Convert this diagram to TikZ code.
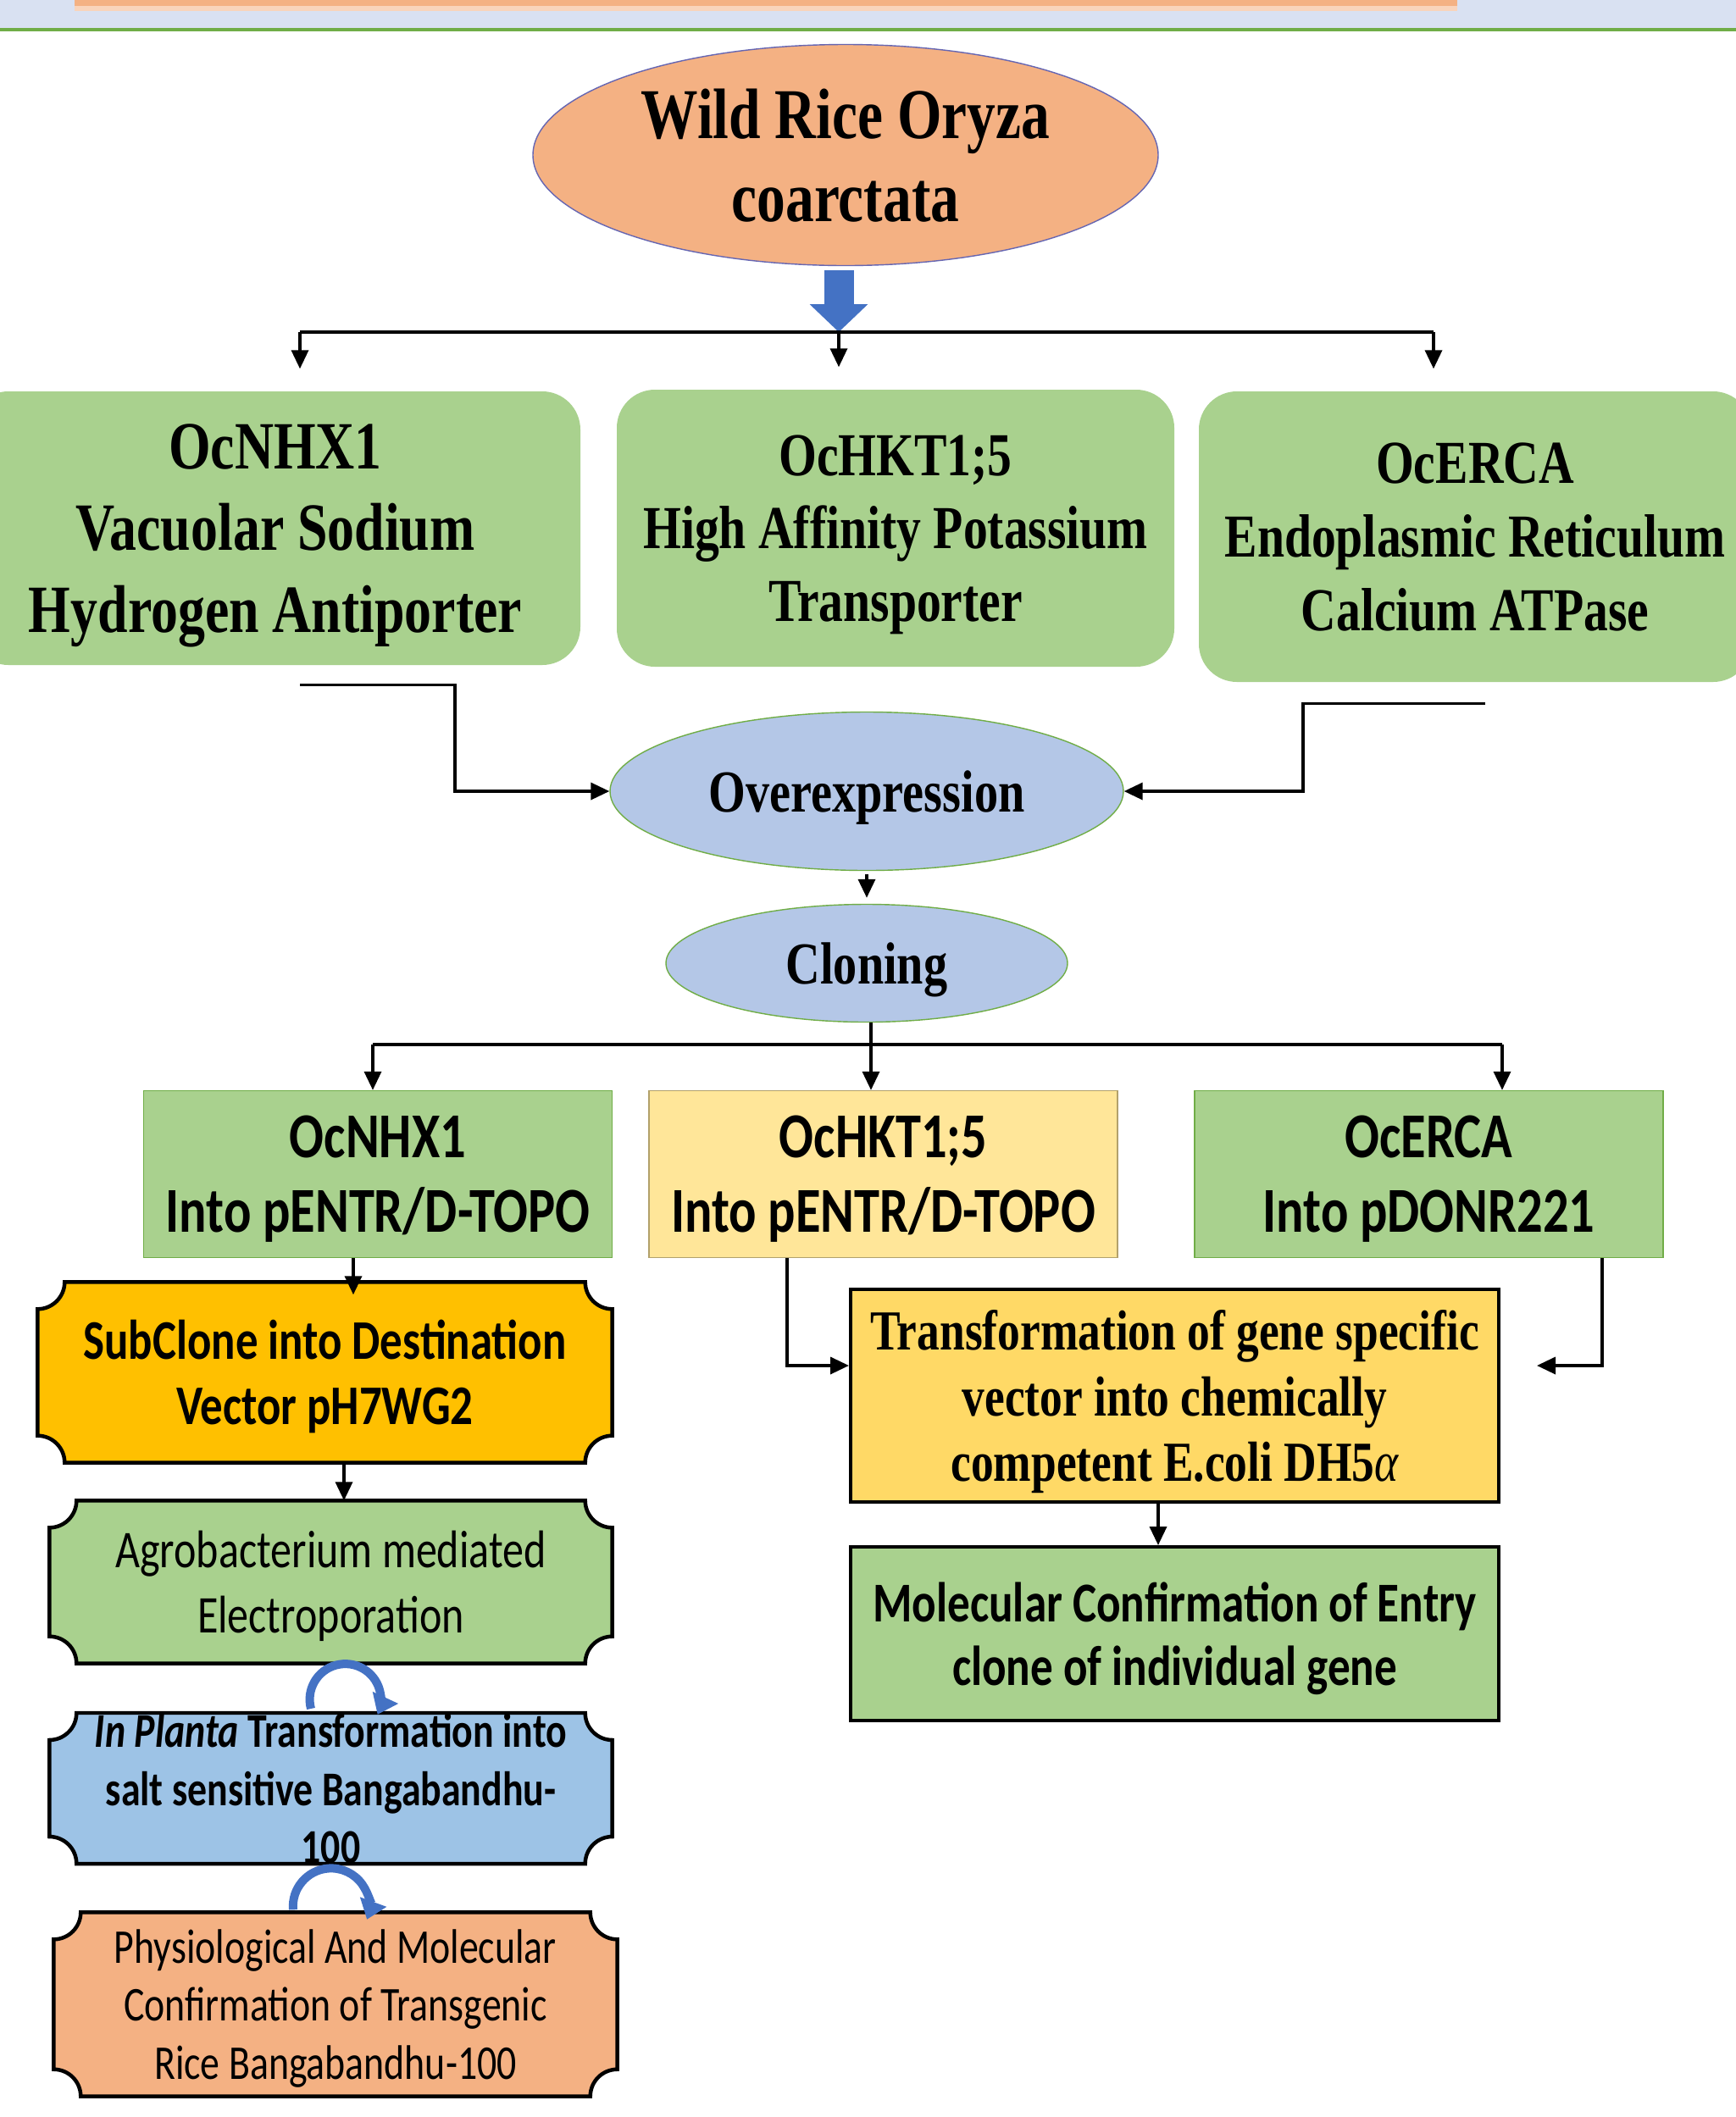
\documentclass[tikz,border=0pt]{standalone}
\usepackage{fontspec}
\setmainfont{Liberation Serif}[FakeStretch=0.8]
\newfontfamily\calfont{Carlito}[FakeStretch=0.8]
\usetikzlibrary{arrows.meta, shapes.geometric, positioning, backgrounds}

\definecolor{riceorange}{HTML}{F4B183}
\definecolor{ricegreen}{HTML}{A9D18E}
\definecolor{riceblue}{HTML}{B4C7E7}
\definecolor{paleyellow}{HTML}{FFE699}
\definecolor{gold}{HTML}{FFC000}
\definecolor{sandyellow}{HTML}{FFD966}
\definecolor{skyblue}{HTML}{9DC3E6}
\definecolor{arrowblue}{HTML}{4472C4}
\definecolor{bandblue}{HTML}{D9E1F2}
\definecolor{bandgreen}{HTML}{70AD47}

% plaque outline (concave corners) round a node
\newcommand{\plaque}[3][3.2mm]{%
  \draw[line width=0.45mm, fill=#3]
    ([xshift=#1]#2.north west) -- ([xshift=-#1]#2.north east)
    arc[start angle=180, end angle=270, radius=#1]
    -- ([yshift=#1]#2.south east)
    arc[start angle=90, end angle=180, radius=#1]
    -- ([xshift=#1]#2.south west)
    arc[start angle=0, end angle=90, radius=#1]
    -- ([yshift=-#1]#2.north west)
    arc[start angle=270, end angle=360, radius=#1] -- cycle;}

\begin{document}
\begin{tikzpicture}[
            on grid,
            every node/.style={text depth=0pt},
            bubble/.style={ellipse, inner sep=0pt, align=center, font=\bfseries\fontsize{20}{24}\selectfont},
            genebox/.style={rectangle, rounded corners=0.45cm, fill=ricegreen, inner sep=0pt, align=center},
            vecbox/.style={rectangle, draw=bandgreen, inner sep=0pt, align=center,
                minimum width=5.53cm, minimum height=1.97cm, font=\calfont\bfseries\fontsize{21.5}{25}\selectfont},
            platebox/.style={rectangle, inner sep=0pt, align=center, minimum width=6.63cm},
            stepbox/.style={rectangle, draw, line width=0.4mm, inner sep=0pt, align=center,
                minimum width=7.65cm},
            arr/.style={-{Triangle[width=2mm,length=2.2mm]}, line width=0.35mm},
            bar/.style={line width=0.4mm},
            fat/.style={arrowblue, line width=3.5mm, -{Triangle[width=6.7mm,length=3.3mm]}},
            curl/.style={arrowblue, line width=1mm, -{Triangle[width=3.2mm,length=2.2mm]}}
        ]

        \useasboundingbox (0,0) rectangle (20.49,-24.99);

        % slide header
        \fill[bandblue] (0,0) rectangle (20.49,-0.35);
        \fill[riceorange!55] (0.88,0) rectangle (17.2,-0.13);
        \fill[riceorange] (0.88,0) rectangle (17.2,-0.07);
        \draw[line width=0.35mm, bandgreen] (0,-0.35) -- (20.49,-0.35);

        \node[bubble, fill=riceorange, draw=black!50!blue!60, minimum width=7.38cm, minimum height=2.61cm,
            font=\bfseries\fontsize{24}{28}\selectfont] (wild) at (9.98,-1.83) {Wild Rice Oryza\\coarctata};

        \node[genebox, minimum width=7.2cm, minimum height=3.23cm, font=\bfseries\fontsize{22.7}{27.5}\selectfont]
            (nhx) at (3.25,-6.235) {OcNHX1\\Vacuolar Sodium\\Hydrogen Antiporter};
        \node[genebox, minimum width=6.58cm, minimum height=3.27cm, font=\bfseries\fontsize{20.5}{24.4}\selectfont]
            (hkt) [right=7.32cm of nhx] {OcHKT1;5\\High Affinity Potassium\\Transporter};
        \node[genebox, minimum width=6.52cm, minimum height=3.43cm, font=\bfseries\fontsize{20.5}{24.7}\selectfont]
            (erca) [right=6.84cm of hkt, yshift=-1mm] {OcERCA\\Endoplasmic Reticulum\\Calcium ATPase};

        \node[bubble, fill=riceblue, draw=bandgreen, minimum width=6.06cm, minimum height=1.87cm]
            (over) at (10.23,-9.34) {Overexpression};
        \node[bubble, fill=riceblue, draw=bandgreen, minimum width=4.74cm, minimum height=1.39cm]
            (clone) [below=2.03cm of over] {Cloning};

        \node[vecbox, fill=ricegreen] (nhxv) at (4.46,-13.86) {OcNHX1\\Into pENTR/D-TOPO};
        \node[vecbox, fill=paleyellow, draw=paleyellow!70!black] (hktv) [right=5.965cm of nhxv] {OcHKT1;5\\Into pENTR/D-TOPO};
        \node[vecbox, fill=ricegreen] (ercav) [right=6.44cm of hktv] {OcERCA\\Into pDONR221};

        % left branch: destination vector and plants
        \node[platebox, minimum width=6.77cm, minimum height=2.12cm, font=\calfont\bfseries\fontsize{18.8}{22}\selectfont]
            (sub) at (3.835,-16.2) {SubClone into Destination\\Vector pH7WG2};
        \node[platebox, minimum height=1.91cm, font=\calfont\fontsize{17.8}{22}\selectfont]
            (agro) at (3.905,-18.675) {Agrobacterium mediated\\Electroporation};
        \node[platebox, minimum height=1.76cm, font=\calfont\bfseries\fontsize{16.3}{19.4}\selectfont]
            (planta) at (3.905,-21.11) {\textit{In Planta} Transformation into\\salt sensitive Bangabandhu-\\100};
        \node[platebox, minimum width=6.64cm, minimum height=2.16cm, font=\calfont\fontsize{16.3}{19.5}\selectfont]
            (physio) at (3.96,-23.66) {Physiological And Molecular\\Confirmation of Transgenic\\Rice Bangabandhu-100};

        % right branch: entry clones
        \node[stepbox, fill=sandyellow, minimum height=2.51cm, font=\bfseries\fontsize{19}{22}\selectfont]
            (trans) at (13.865,-16.475) {Transformation of gene specific\\vector into chemically\\competent E.coli DH5{\mdseries\itshape α}};
        \node[stepbox, fill=ricegreen, minimum height=2.05cm, font=\calfont\bfseries\fontsize{18.9}{21.5}\selectfont]
            (molec) [below=2.81cm of trans] {Molecular Confirmation of Entry\\clone of individual gene};

        \begin{scope}[on background layer]
            \plaque{sub}{gold}
            \plaque{agro}{ricegreen}
            \plaque{planta}{skyblue}
            \plaque{physio}{riceorange}
        \end{scope}

        \coordinate (s0) at (9.9,-3.92);
        \coordinate (s1) at (3.54,-3.92);
        \coordinate (s3) at (16.92,-3.92);
        \draw[fat] ([yshift=-0.5mm]wild.south -| s0) -- (s0);
        \draw[bar] (s1) -- (s3);
        \foreach \s/\b in {s1/nhx, s0/hkt, s3/erca}
            \draw[arr, shorten >=2.6mm] (\s) -- (\s |- \b.north);

        \draw[arr] ([yshift=-2.3mm]nhx.south -| s1) -- ++(1.83,0) |- (over.west);
        \draw[arr] ([xshift=1.2mm, yshift=-2.5mm]erca.south) -- ++(-2.15,0) |- (over.east);
        \draw[arr, shorten <=0.4mm, shorten >=0.7mm] (over) -- (clone);

        \coordinate (c0) at (10.28,-12.33);
        \coordinate (c1) at (4.40,-12.33);
        \coordinate (c3) at (17.73,-12.33);
        \draw[arr] (clone.south -| c0) -- (c0 |- nhxv.north);
        \draw[bar] (c1) -- (c3);
        \draw[arr] (c1) -- (c1 |- nhxv.north);
        \draw[arr] (c3) -- (c3 |- ercav.north);

        \draw[arr] ([xshift=-2.9mm]nhxv.south) -- ([xshift=-2.9mm, yshift=-1.5mm]nhxv.south |- sub.north);
        \draw[arr] ([xshift=2.25mm]sub.south) -- ([xshift=2.25mm]sub.south |- agro.north);
        \draw[curl] ([xshift=-2.35mm, yshift=0.5mm]planta.north) arc[start angle=195, end angle=-25, radius=4.2mm];
        \draw[curl] ([xshift=-5mm, yshift=0.3mm]physio.north) arc[start angle=185, end angle=-20, radius=4.5mm];

        \draw[arr] ([xshift=-11.35mm]hktv.south) |- ([yshift=3.55mm]trans.west);
        \draw[arr, shorten >=4.3mm] ([xshift=20.45mm]ercav.south) |- ([yshift=3.55mm]trans.east);
        \draw[arr] ([xshift=-1.95mm]trans.south) -- ([xshift=-1.95mm]trans.south |- molec.north);

    \end{tikzpicture}
\end{document}
